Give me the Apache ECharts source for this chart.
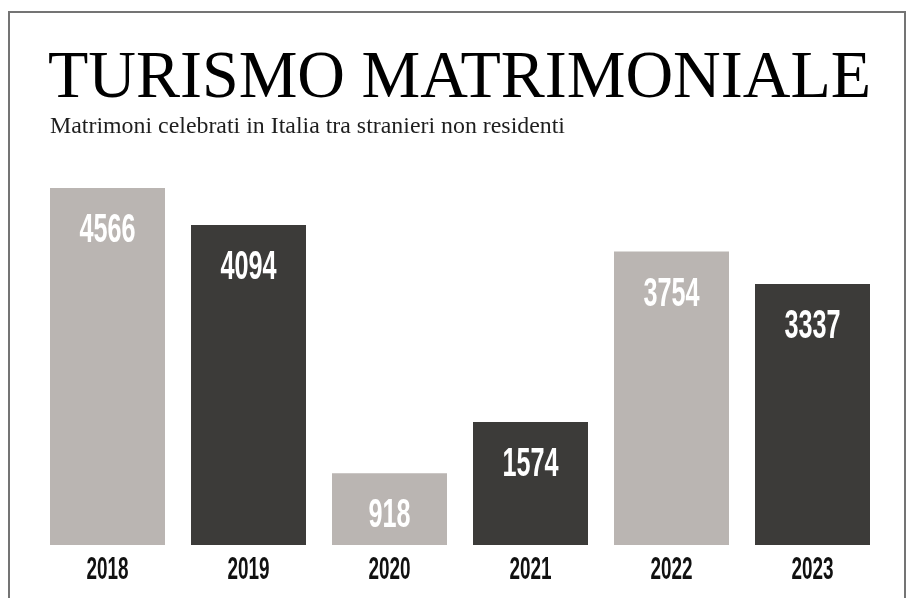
<!DOCTYPE html>
<html>
<head>
<meta charset="utf-8">
<script src="https://cdn.jsdelivr.net/npm/echarts@6/dist/echarts.min.js"></script>
<style>
  html, body { margin: 0; padding: 0; background: #ffffff; }
  #chart { width: 914px; height: 598px; }
</style>
</head>
<body>
<div id="chart"></div>
<script>
// Weddings celebrated in Italy between non-resident foreigners, by year
const years = ['2018', '2019', '2020', '2021', '2022', '2023'];
const weddings = [4566, 4094, 918, 1574, 3754, 3337];
const barColors = ['#bab5b2', '#3c3b39', '#bab5b2', '#3c3b39', '#bab5b2', '#3c3b39'];

const titleText = 'TURISMO MATRIMONIALE';
const subtitleText = 'Matrimoni celebrati in Italia tra stranieri non residenti';

const TITLE_FONT = '67px "Liberation Serif", "DejaVu Serif", serif';
const SUB_FONT = '24px "Liberation Serif", "DejaVu Serif", serif';
const NUM_FONT = 'bold 40px "Liberation Sans Narrow", "Liberation Sans", sans-serif';
const YEAR_FONT = 'bold 31px "Liberation Sans Narrow", "Liberation Sans", sans-serif';
const NUM_SCALE = 0.63;
const YEAR_SCALE = 0.61;

// horizontal squeeze so a heading fills a given width
function fitScale(text, font, width) {
  const ctx = document.createElement('canvas').getContext('2d');
  ctx.font = font;
  return width / ctx.measureText(text).width;
}

const chart = echarts.init(document.getElementById('chart'), null, { renderer: 'canvas' });

chart.setOption({
  backgroundColor: '#ffffff',
  animation: false,
  grid: { left: 37, right: 31, top: 188, bottom: 53 },
  xAxis: {
    type: 'category',
    data: years,
    show: false
  },
  yAxis: {
    type: 'value',
    min: 0,
    max: 4566,
    show: false
  },
  graphic: [
    {
      type: 'rect',
      shape: { x: 9, y: 12, width: 896, height: 700 },
      style: { fill: 'none', stroke: '#747474', lineWidth: 2 },
      z: 0
    },
    {
      type: 'text',
      x: 48,
      y: 79,
      scaleX: fitScale(titleText, TITLE_FONT, 823),
      style: {
        text: titleText,
        font: TITLE_FONT,
        fill: '#000000',
        verticalAlign: 'middle'
      }
    },
    {
      type: 'text',
      x: 50,
      y: 127,
      scaleX: fitScale(subtitleText, SUB_FONT, 515),
      style: {
        text: subtitleText,
        font: SUB_FONT,
        fill: '#1e1e1e',
        verticalAlign: 'middle'
      }
    }
  ],
  series: [{
    type: 'custom',
    data: weddings.map((v, i) => [i, v]),
    encode: { x: 0, y: 1 },
    renderItem: function (params, api) {
      const i = api.value(0);
      const v = api.value(1);
      const top = api.coord([i, v]);
      const base = api.coord([i, 0]);
      const w = 115;
      return {
        type: 'group',
        children: [
          {
            type: 'rect',
            shape: { x: top[0] - w / 2, y: top[1], width: w, height: base[1] - top[1] },
            style: { fill: barColors[i] }
          },
          {
            type: 'text',
            x: top[0],
            y: top[1] + 43,
            scaleX: NUM_SCALE,
            style: {
              text: String(v),
              font: NUM_FONT,
              fill: '#ffffff',
              align: 'center',
              verticalAlign: 'middle'
            }
          },
          {
            type: 'text',
            x: base[0],
            y: base[1] + 25,
            scaleX: YEAR_SCALE,
            style: {
              text: years[i],
              font: YEAR_FONT,
              fill: '#111111',
              align: 'center',
              verticalAlign: 'middle'
            }
          }
        ]
      };
    }
  }]
});
</script>
</body>
</html>
